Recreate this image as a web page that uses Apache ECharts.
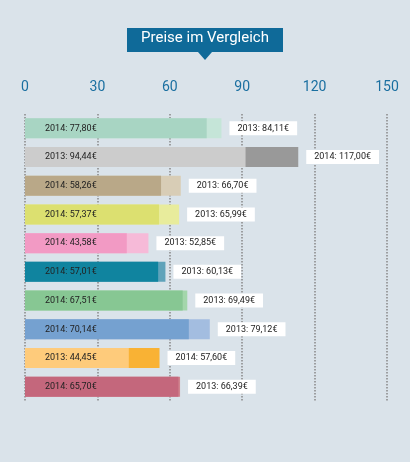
<!DOCTYPE html>
<html><head><meta charset="utf-8">
<script src="https://cdn.jsdelivr.net/npm/echarts@6/dist/echarts.min.js"></script>
<style>html,body{margin:0;padding:0;background:#dae3ea}#c{width:410px;height:462px}</style>
</head><body><div id="c"></div>
<script>
const rows = ['r1','r2','r3','r4','r5','r6','r7','r8','r9','r10'];
const smallYear = ['2014','2013','2014','2014','2014','2014','2014','2014','2013','2014'];
const smallVal = [77.80, 94.44, 58.26, 57.37, 43.58, 57.01, 67.51, 70.14, 44.45, 65.70];
const largeYear = ['2013','2014','2013','2013','2013','2013','2013','2013','2014','2013'];
const largeVal = [84.11, 117.00, 66.70, 65.99, 52.85, 60.13, 69.49, 79.12, 57.60, 66.39];
const smallColor = ['#a8d5c3','#cccccc','#b9a888','#dce070','#f29ac4','#10849f','#87c793','#75a1d0','#fecb7b','#c4677c'];
const largeColor = ['#c5e5d8','#999999','#d8cdb6','#e8ec9c','#f6bad8','#5fa3ba','#a3d6ab','#a3bde0','#f9b234','#d0848f'];
const ticks = [0,30,60,90,120,150];
const fmt = v => v.toFixed(2).replace('.', ',') + '€';

const chart = echarts.init(document.getElementById('c'));
chart.setOption({
  backgroundColor: '#dae3ea',
  animation: false,
  textStyle: {fontFamily: 'Roboto'},
  graphic: [
    {type:'rect', shape:{x:127,y:28,width:156,height:24}, style:{fill:'#0f6a99'}},
    {type:'polygon', shape:{points:[[198,52],[212,52],[205,60]]}, style:{fill:'#0f6a99'}},
    {type:'text', left:'center', top:31, style:{text:'Preise im Vergleich', fill:'#fff', font:'15px Roboto'}}
  ],
  grid: {left:25, right:23, top:114, bottom:61},
  xAxis: [{
    type:'value', position:'top', min:0, max:150, interval:30,
    axisLine:{show:false}, axisTick:{show:false},
    axisLabel:{color:'#1a6fa0', fontSize:14, margin:20, formatter: v => ticks.includes(v) ? String(v) : ''},
    splitLine:{lineStyle:{type:'dotted', color:'#888', width:1.5}}
  }, {
    type:'value', position:'bottom', min:0, max:155, show:false, splitLine:{show:false}
  }],
  yAxis: {type:'category', data:rows, inverse:true, show:false},
  series: [
    {type:'bar', xAxisIndex:1, barWidth:20, barGap:'-100%',
     data: largeVal.map((v,i)=>({value:v, itemStyle:{color:largeColor[i]},
       label:{formatter: largeYear[i]+': '+fmt(v)}})),
     label:{show:true, position:'right', distance:8, color:'#222', fontSize:9,
       backgroundColor:'#fff', padding:[3,8,2,8]}},
    {type:'bar', xAxisIndex:1, barWidth:20,
     data: smallVal.map((v,i)=>({value:v, itemStyle:{color:smallColor[i]},
       label:{formatter: smallYear[i]+': '+fmt(v)}})),
     label:{show:true, position:'insideLeft', distance:20, color:'#222', fontSize:9}}
  ]
});
</script></body></html>
